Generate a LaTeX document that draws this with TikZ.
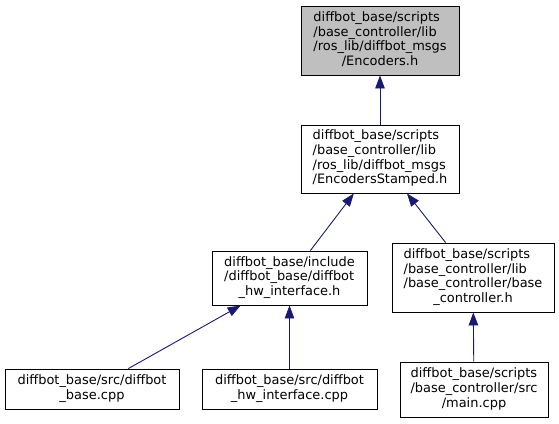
\documentclass[tikz,border=0pt]{standalone}
\usepackage{fontspec}
\setmainfont{DejaVu Sans}
\usetikzlibrary{arrows.meta}
\definecolor{midnightblue}{RGB}{25,25,112}
\definecolor{grey75}{RGB}{191,191,191}
\newcommand{\fpath}[2]{\begin{tabular}{@{}l@{}}#1\\\multicolumn{1}{@{}c@{}}{#2}\end{tabular}}

\begin{document}
\begin{tikzpicture}[
      x=1bp, y=-1bp,
      include/.style={draw=midnightblue, line width=0.9bp, -{Triangle[length=13bp,width=9.5bp]}},
      current/.style={fill=grey75},
      every node/.style={rectangle, draw=black, fill=white, line width=0.9bp, inner sep=0pt, font=\fontsize{13}{14.7}\selectfont}
      ]
      \useasboundingbox (0,0) rectangle (559,423);
      \node[current, minimum width=158bp, minimum height=69bp] (enc) at (380,40.5)
        {\fpath{diffbot\_base/scripts\\/base\_controller/lib\\/ros\_lib/diffbot\_msgs}{/Encoders.h}};
      \node[minimum width=158bp, minimum height=68bp] (stamped) at (380,159)
        {\fpath{diffbot\_base/scripts\\/base\_controller/lib\\/ros\_lib/diffbot\_msgs}{/EncodersStamped.h}};
      \node[minimum width=155bp, minimum height=54bp] (hwif) at (289.5,278)
        {\fpath{diffbot\_base/include\\/diffbot\_base/diffbot}{\_hw\_interface.h}};
      \node[minimum width=162bp, minimum height=69bp] (basectl) at (473,277.5)
        {\fpath{diffbot\_base/scripts\\/base\_controller/lib\\/base\_controller/base}{\_controller.h}};
      \node[minimum width=174bp, minimum height=40bp] (dbase) at (92,389)
        {\fpath{diffbot\_base/src/diffbot}{\_base.cpp}};
      \node[minimum width=175bp, minimum height=40bp] (hwcpp) at (289.5,389)
        {\fpath{diffbot\_base/src/diffbot}{\_hw\_interface.cpp}};
      \node[minimum width=148bp, minimum height=55bp] (maincpp) at (474,389.5)
        {\fpath{diffbot\_base/scripts\\/base\_controller/src}{/main.cpp}};
      \path (stamped) edge [include] (enc);
      \path (hwif) edge [include] (stamped);
      \path (basectl) edge [include] (stamped);
      \path (dbase) edge [include] (hwif);
      \path (hwcpp) edge [include] (hwif);
      \path (maincpp) edge [include] (basectl);
    \end{tikzpicture}
\end{document}
